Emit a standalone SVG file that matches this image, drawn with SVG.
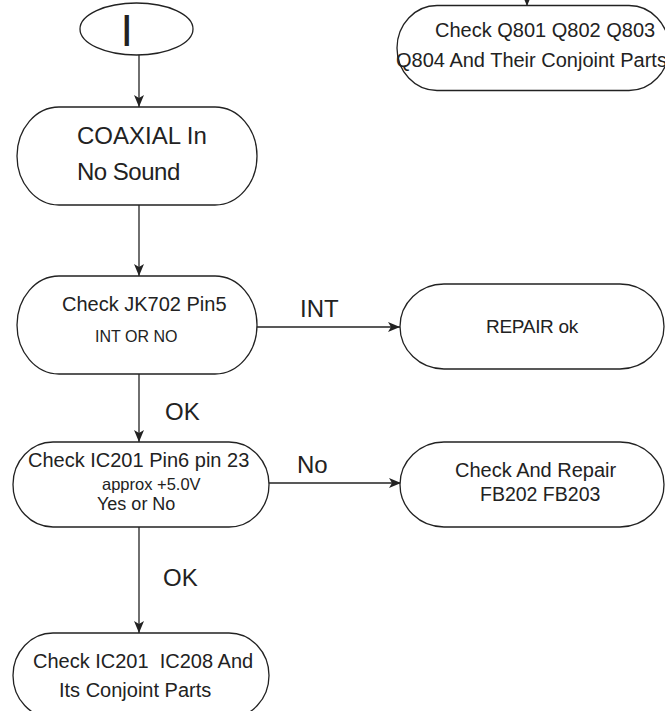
<svg xmlns="http://www.w3.org/2000/svg" width="665" height="711" viewBox="0 0 665 711">
<defs>
<marker id="ah" viewBox="0 0 12 10" refX="12" refY="5" markerWidth="12" markerHeight="10" markerUnits="userSpaceOnUse" orient="auto">
<path d="M0,0 L12,5 L0,10 L3,5 Z" fill="#222"/>
</marker>
<style>
.n{fill:#fff;stroke:#222;stroke-width:1.3}
.t{font-family:"Liberation Sans",Arial,sans-serif;fill:#222;white-space:pre}
.e{stroke:#222;stroke-width:1.3;fill:none;marker-end:url(#ah)}
</style>
</defs>
<rect width="665" height="711" fill="#fff"/>
<g id="connectors">
<line class="e" x1="139" y1="55" x2="139" y2="107"/>
<line class="e" x1="139" y1="205" x2="139" y2="276"/>
<line class="e" x1="257" y1="327" x2="400" y2="327"/>
<line class="e" x1="139" y1="374" x2="139" y2="442"/>
<line class="e" x1="269" y1="483" x2="401" y2="483"/>
<line class="e" x1="139" y1="527" x2="139" y2="633"/>
<line class="e" x1="527" y1="-5" x2="527" y2="6"/>
<text class="t" x="300" y="317" font-size="24">INT</text>
<text class="t" x="165" y="420" font-size="24">OK</text>
<text class="t" x="297" y="473" font-size="24">No</text>
<text class="t" x="163" y="586" font-size="24">OK</text>
</g>
<g id="start">
<ellipse class="n" cx="136.5" cy="29" rx="56.5" ry="26"/>
<text class="t" x="126.7" y="46" font-size="45" text-anchor="middle">I</text>
</g>
<g id="coaxial">
<rect class="n" x="17" y="107" width="240" height="98" rx="42" ry="49"/>
<text class="t" x="77" y="144" font-size="24">COAXIAL In</text>
<text class="t" x="77" y="180" font-size="24" letter-spacing="-0.5">No Sound</text>
</g>
<g id="jk702">
<rect class="n" x="17" y="276" width="240" height="98" rx="42" ry="49"/>
<text class="t" x="62" y="311" font-size="20">Check JK702 Pin5</text>
<text class="t" x="95" y="342" font-size="16">INT OR NO</text>
</g>
<g id="repair">
<rect class="n" x="400" y="284" width="264" height="85" rx="44" ry="42.5"/>
<text class="t" x="486" y="333" font-size="19" letter-spacing="-0.3">REPAIR ok</text>
</g>
<g id="q801">
<rect class="n" x="397" y="5.5" width="272" height="85" rx="40" ry="42.5"/>
<text class="t" x="435" y="37" font-size="20">Check Q801 Q802 Q803</text>
<text class="t" x="396" y="67" font-size="20">Q804 And Their Conjoint Parts</text>
</g>
<g id="ic201">
<rect class="n" x="13" y="442" width="256" height="85" rx="40" ry="42.5"/>
<text class="t" x="28" y="467" font-size="20">Check IC201 Pin6 pin 23</text>
<text class="t" x="102" y="490" font-size="16.5">approx +5.0V</text>
<text class="t" x="97" y="510" font-size="18">Yes or No</text>
</g>
<g id="fb">
<rect class="n" x="400" y="442" width="264" height="85" rx="44" ry="42.5"/>
<text class="t" x="455" y="477" font-size="20">Check And Repair</text>
<text class="t" x="480" y="501" font-size="19.5">FB202 FB203</text>
</g>
<g id="ic208">
<rect class="n" x="13" y="633" width="256" height="85" rx="40" ry="42.5"/>
<text class="t" x="33" y="668" font-size="20">Check IC201  IC208 And</text>
<text class="t" x="59" y="697" font-size="20">Its Conjoint Parts</text>
</g>
</svg>
